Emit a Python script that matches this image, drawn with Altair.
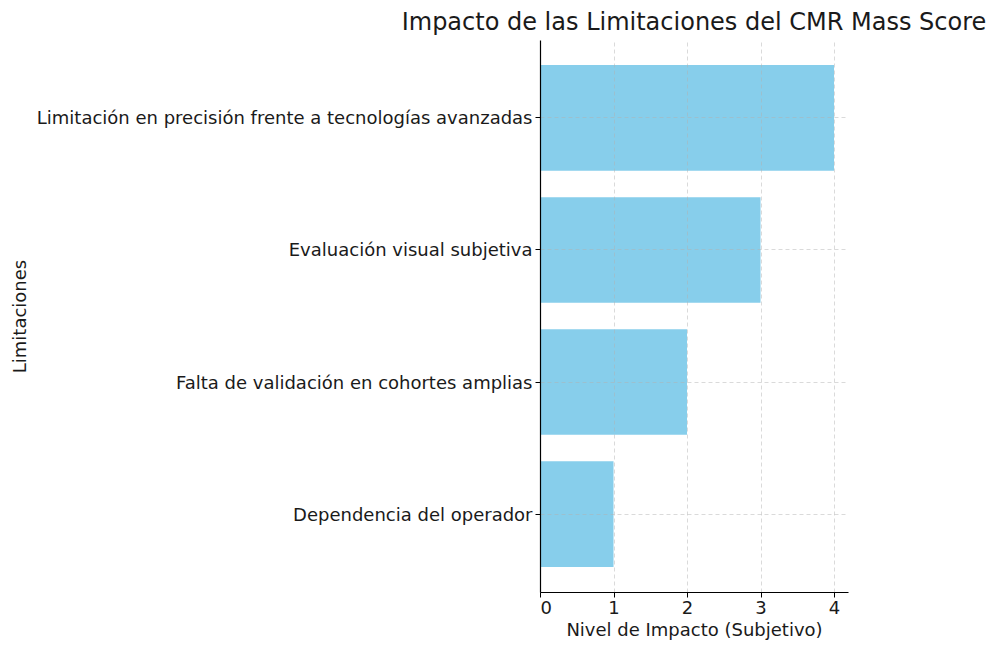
import altair as alt
import pandas as pd

# Limitations of the CMR Mass Score and their subjective impact level
limitaciones = [
    "Limitación en precisión frente a tecnologías avanzadas",
    "Evaluación visual subjetiva",
    "Falta de validación en cohortes amplias",
    "Dependencia del operador",
]
impacto = [4, 3, 2, 1]

df = pd.DataFrame({"Limitaciones": limitaciones, "Impacto": impacto})

FONT = "DejaVu Sans"
TXT = 18

bars = alt.Chart(df).mark_bar(color="#87CEEB").encode(
    x=alt.X(
        "Impacto:Q",
        title="Nivel de Impacto (Subjetivo)",
        scale=alt.Scale(domain=[0, 4.19], nice=False, zero=True),
        axis=alt.Axis(
            values=[0, 1, 2, 3, 4],
            format="d",
            grid=True,
            gridColor="#b0b0b0",
            gridOpacity=0.6,
            gridDash=[4, 3],
            gridWidth=0.8,
            domainColor="#000000",
            domainWidth=1.2,
            tickColor="#000000",
            tickSize=5,
            labelFontSize=TXT,
            labelColor="#1a1a1a",
            labelPadding=2,
            titleFontSize=TXT,
            titleFontWeight="normal",
            titleColor="#1a1a1a",
            titlePadding=4,
            zindex=1,
        ),
    ),
    y=alt.Y(
        "Limitaciones:N",
        sort=limitaciones,
        title="Limitaciones",
        scale=alt.Scale(paddingInner=0.2, paddingOuter=0.19),
        axis=alt.Axis(
            grid=True,
            bandPosition=0.5,
            gridColor="#b0b0b0",
            gridOpacity=0.6,
            gridDash=[4, 3],
            gridWidth=0.8,
            domainColor="#000000",
            domainWidth=1.2,
            tickColor="#000000",
            tickSize=5,
            labelFontSize=TXT,
            labelColor="#1a1a1a",
            labelPadding=3,
            labelOffset=1.5,
            labelLimit=600,
            titleFontSize=TXT,
            titleFontWeight="normal",
            titleColor="#1a1a1a",
            titleX=-520,
            titleY=276,
            titleAngle=-90,
            titleAlign="center",
            titleBaseline="middle",
            zindex=1,
        ),
    ),
)

chart = bars.properties(
    width=308,
    height=552,
    title=alt.TitleParams(
        "Impacto de las Limitaciones del CMR Mass Score",
        fontSize=24,
        fontWeight="normal",
        color="#1a1a1a",
        anchor="middle",
        offset=5,
    ),
    autosize=alt.AutoSizeParams(type="none"),
    padding={"left": 540, "top": 40, "right": 152, "bottom": 60},
).configure(font=FONT).configure_view(stroke=None)

chart.save("out.html", embed_options={"renderer": "svg", "actions": False})
